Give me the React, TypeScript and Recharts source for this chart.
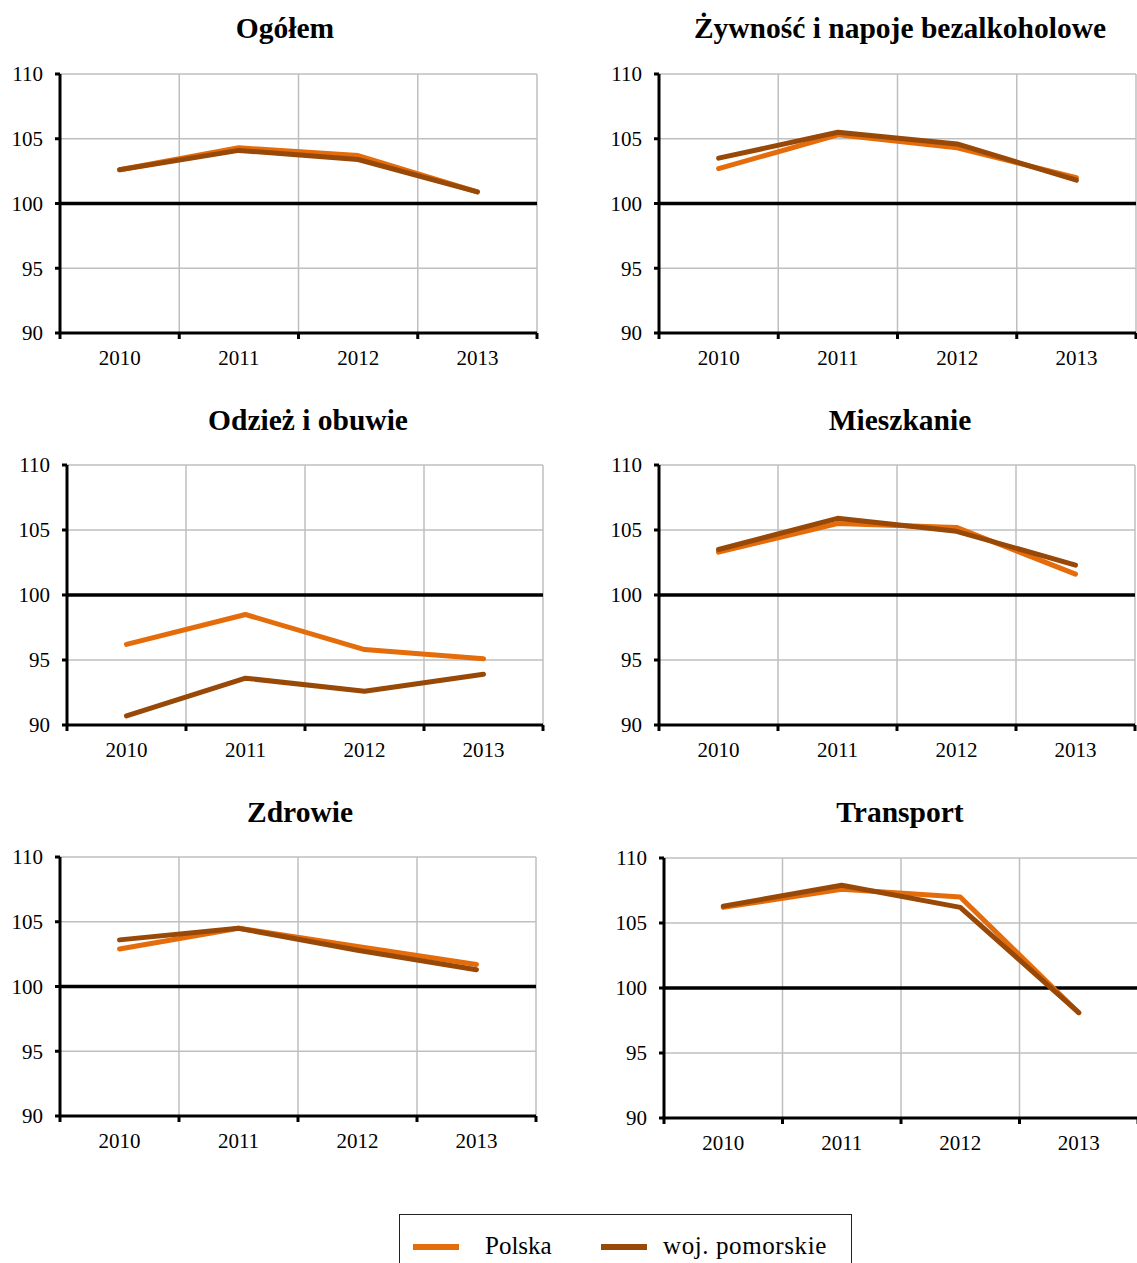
import { LineChart, Line, XAxis, YAxis, CartesianGrid, ReferenceLine } from "recharts";

const years = ["2010", "2011", "2012", "2013"];
const yTicks = [90, 95, 100, 105, 110];
const xTicks = [0, 0.5, 1, 1.5, 2, 2.5, 3, 3.5, 4];
const bandEdges = [1, 2, 3, 4];

const ogolemPolska = [102.6, 104.3, 103.7, 100.9];
const ogolemPomorskie = [102.6, 104.1, 103.4, 100.9];
const zywnoscPolska = [102.7, 105.3, 104.3, 102.0];
const zywnoscPomorskie = [103.5, 105.5, 104.6, 101.8];
const odziezPolska = [96.2, 98.5, 95.8, 95.1];
const odziezPomorskie = [90.7, 93.6, 92.6, 93.9];
const mieszkaniePolska = [103.3, 105.5, 105.2, 101.6];
const mieszkaniePomorskie = [103.5, 105.9, 104.9, 102.3];
const zdrowiePolska = [102.9, 104.5, 103.1, 101.7];
const zdrowiePomorskie = [103.6, 104.5, 102.8, 101.3];
const transportPolska = [106.2, 107.6, 107.0, 98.1];
const transportPomorskie = [106.3, 107.9, 106.2, 98.1];

const ORANGE = "#E46C0A";
const BROWN = "#984807";
const FONT = "'Liberation Serif', 'Times New Roman', serif";

const MT = 12;
const MR = 4;
const YW = 60;
const XH = 45;

type Panel = {
  title: string;
  titleX: number;
  titleY: number;
  polska: number[];
  pomorskie: number[];
  x0: number;
  x1: number;
  top: number;
  bottom: number;
};

const panels: Panel[] = [
  { title: "Ogółem", titleX: 285, titleY: 14, polska: ogolemPolska, pomorskie: ogolemPomorskie, x0: 60, x1: 537, top: 74, bottom: 333 },
  { title: "Żywność i napoje bezalkoholowe", titleX: 900, titleY: 14, polska: zywnoscPolska, pomorskie: zywnoscPomorskie, x0: 659, x1: 1136, top: 74, bottom: 333 },
  { title: "Odzież i obuwie", titleX: 308, titleY: 406, polska: odziezPolska, pomorskie: odziezPomorskie, x0: 67, x1: 543, top: 465, bottom: 725 },
  { title: "Mieszkanie", titleX: 900, titleY: 406, polska: mieszkaniePolska, pomorskie: mieszkaniePomorskie, x0: 659, x1: 1135, top: 465, bottom: 725 },
  { title: "Zdrowie", titleX: 300, titleY: 798, polska: zdrowiePolska, pomorskie: zdrowiePomorskie, x0: 60, x1: 536, top: 857, bottom: 1116 },
  { title: "Transport", titleX: 900, titleY: 798, polska: transportPolska, pomorskie: transportPomorskie, x0: 664, x1: 1138, top: 858, bottom: 1118 },
];

function YearTick(props: any) {
  const { x, y, payload } = props;
  const v = payload.value as number;
  if (Number.isInteger(v)) {
    return <line x1={x} x2={x} y1={y - 8} y2={y - 2} stroke="#000" strokeWidth={3} />;
  }
  return (
    <text x={x} y={y + 24} textAnchor="middle" fontSize={21} fontFamily={FONT} fill="#000">
      {years[Math.floor(v)]}
    </text>
  );
}

function PanelChart({ p }: { p: Panel }) {
  const data = years.map((_, i) => ({ x: i + 0.5, polska: p.polska[i], pomorskie: p.pomorskie[i] }));
  const width = YW + (p.x1 - p.x0) + MR;
  const height = MT + (p.bottom - p.top) + XH;

  return (
    <>
      <div
        style={{
          position: "absolute",
          left: p.titleX,
          top: p.titleY,
          transform: "translateX(-50%)",
          whiteSpace: "nowrap",
          fontFamily: FONT,
          fontWeight: "bold",
          fontSize: 29.5,
          lineHeight: 1,
          color: "#000",
        }}
      >
        {p.title}
      </div>
      <div style={{ position: "absolute", left: p.x0 - YW, top: p.top - MT }}>
        <LineChart width={width} height={height} data={data} margin={{ top: MT, right: MR, bottom: 0, left: 0 }}>
          <CartesianGrid vertical={false} stroke="#BFBFBF" strokeWidth={1.5} />
          {bandEdges.map((e) => (
            <ReferenceLine key={e} x={e} stroke="#BFBFBF" strokeWidth={1.5} />
          ))}
          <ReferenceLine y={100} stroke="#000" strokeWidth={3.5} />
          <XAxis
            type="number"
            dataKey="x"
            domain={[0, 4]}
            ticks={xTicks}
            interval={0}
            height={XH}
            axisLine={{ stroke: "#000", strokeWidth: 3 }}
            tickLine={false}
            tickSize={6}
            tickMargin={2}
            tick={YearTick}
          />
          <YAxis
            domain={[90, 110]}
            ticks={yTicks}
            interval={0}
            width={YW}
            axisLine={{ stroke: "#000", strokeWidth: 3 }}
            tickLine={{ stroke: "#000", strokeWidth: 3 }}
            tickSize={5}
            tickMargin={12}
            tick={{ fill: "#000", fontSize: 21, fontFamily: FONT }}
          />
          <Line
            type="linear"
            dataKey="polska"
            stroke={ORANGE}
            strokeWidth={5}
            strokeLinecap="round"
            strokeLinejoin="round"
            dot={false}
            isAnimationActive={false}
          />
          <Line
            type="linear"
            dataKey="pomorskie"
            stroke={BROWN}
            strokeWidth={5}
            strokeLinecap="round"
            strokeLinejoin="round"
            dot={false}
            isAnimationActive={false}
          />
        </LineChart>
      </div>
    </>
  );
}

function LegendBox() {
  const text = { position: "absolute" as const, fontFamily: FONT, fontSize: 25, lineHeight: 1, color: "#000", whiteSpace: "nowrap" as const };
  return (
    <div
      style={{
        position: "absolute",
        left: 399,
        top: 1214,
        width: 453,
        height: 70,
        border: "1.5px solid #222",
        boxSizing: "border-box",
      }}
    >
      <div style={{ position: "absolute", left: 13, top: 29, width: 46, height: 6, background: ORANGE }} />
      <div style={{ ...text, left: 85, top: 18 }}>Polska</div>
      <div style={{ position: "absolute", left: 201, top: 29, width: 46, height: 6, background: BROWN }} />
      <div style={{ ...text, left: 263, top: 18, letterSpacing: 0.6 }}>woj. pomorskie</div>
    </div>
  );
}

export default function App() {
  return (
    <div
      style={{
        position: "absolute",
        left: 0,
        top: 0,
        width: 1137,
        height: 1263,
        overflow: "hidden",
        background: "#fff",
      }}
    >
      {panels.map((p) => (
        <PanelChart key={p.title} p={p} />
      ))}
      <LegendBox />
    </div>
  );
}
